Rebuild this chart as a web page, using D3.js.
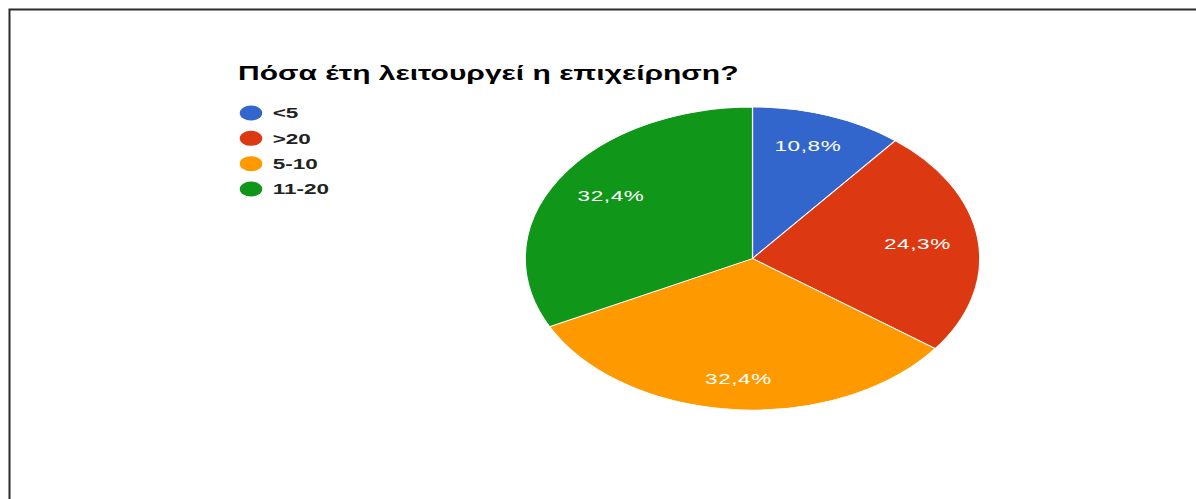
<!DOCTYPE html>
<html>
<head>
<meta charset="utf-8">
<script src="https://cdn.jsdelivr.net/npm/d3@7"></script>
<style>
  body { margin: 0; background: #fff; }
  svg { display: block; }
</style>
</head>
<body>
<svg id="chart"></svg>
<script>
// ====================================================================
// data (37 answers)
var categories = ["<5", ">20", "5-10", "11-20"];
var counts = [4, 9, 12, 12];
var colors = ["#3366cc", "#dc3912", "#ff9900", "#109618"];
var title_text = "Πόσα έτη λειτουργεί η επιχείρηση?";
// ====================================================================

var width = 1196, height = 499;
// the whole picture is stretched horizontally
var stretch_x = 1.5;
var str_font = "Arial, 'Liberation Sans', sans-serif";

var svg = d3.select("#chart")
  .attr("width", width)
  .attr("height", height);

svg.append("rect")
  .attr("width", width)
  .attr("height", height)
  .attr("fill", "#fff");

// frame: top and left edges only
svg.append("path")
  .attr("d", "M9.5," + height + "V9.5H" + width)
  .attr("fill", "none")
  .attr("stroke", "#2b2b2b")
  .attr("stroke-width", 2);

var g = svg.append("g")
  .attr("transform", "scale(" + stretch_x + ",1)");

// title
g.append("text")
  .attr("x", 238 / stretch_x)
  .attr("y", 80)
  .style("font-family", str_font)
  .style("font-weight", "bold")
  .style("font-size", "20px")
  .attr("fill", "#000")
  .text(title_text);

// legend
var legend_y = d3.scalePoint()
  .domain(categories)
  .range([113, 189]);

var legend = g.append("g").attr("id", "legend")
  .selectAll("g")
  .data(categories)
  .enter()
  .append("g")
  .attr("transform", function(d) { return "translate(" + (251 / stretch_x) + "," + legend_y(d) + ")"; });

legend.append("circle")
  .attr("r", 7.5)
  .attr("fill", function(d, i) { return colors[i]; });

legend.append("text")
  .attr("x", 14.5)
  .attr("dy", "0.36em")
  .style("font-family", str_font)
  .style("font-weight", "bold")
  .style("font-size", "15px")
  .attr("fill", "#222")
  .text(function(d) { return d; });

// pie
var radius = 151.5;
var cx = 752.5 / stretch_x, cy = 258.5;
var total = d3.sum(counts);

var pie = d3.pie().sort(null).value(function(d) { return d; });
var arc = d3.arc().innerRadius(0).outerRadius(radius);
var label_arc = d3.arc().innerRadius(radius * 0.77).outerRadius(radius * 0.77);

var pie_g = g.append("g")
  .attr("transform", "translate(" + cx + "," + cy + ")");

var slices = pie(counts);

pie_g.selectAll("path")
  .data(slices)
  .enter()
  .append("path")
  .attr("d", arc)
  .attr("fill", function(d, i) { return colors[i]; })
  .attr("stroke", "#fff")
  .attr("stroke-width", 0.8);

var fmt = function(v) { return (v / total * 100).toFixed(1).replace(".", ",") + "%"; };

pie_g.selectAll("text")
  .data(slices)
  .enter()
  .append("text")
  .attr("transform", function(d) {
    var c = label_arc.centroid(d);
    // labels sit a little closer to the centre horizontally
    return "translate(" + (c[0] * 0.95) + "," + (c[1] * 1.03) + ")";
  })
  .attr("text-anchor", "middle")
  .attr("dy", "0.36em")
  .style("font-family", str_font)
  .style("font-size", "15px")
  .style("letter-spacing", "0.4px")
  .attr("fill", "#fff")
  .text(function(d) { return fmt(d.value); });
</script>
</body>
</html>
